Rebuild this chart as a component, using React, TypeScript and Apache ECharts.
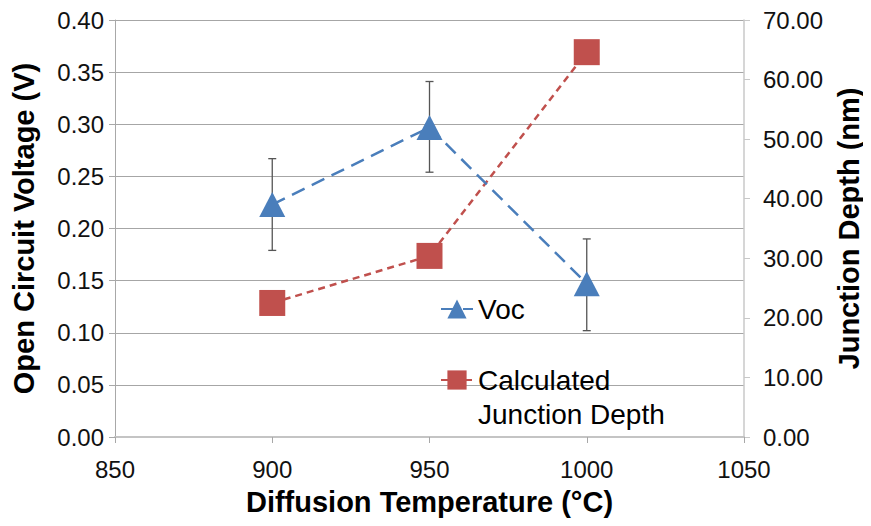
import React, { useEffect, useRef } from "react";
import * as echarts from "echarts";

const temperatures = [900, 950, 1000];
const vocValues = [0.223, 0.297, 0.147];
const vocErrLow = [0.179, 0.254, 0.102];
const vocErrHigh = [0.267, 0.341, 0.19];
const depthValues = [22.5, 30.4, 64.6];
const seriesNames = ["Voc", "Calculated Junction Depth"];
const legendLabels: Record<string, string> = {
  Voc: "Voc",
  "Calculated Junction Depth": "\nCalculated\nJunction Depth",
};

const FONT = "'Liberation Sans', Arial, sans-serif";

export default function App() {
  const ref = useRef<HTMLDivElement>(null);
  useEffect(() => {
    if (!ref.current) return;
    const chart = echarts.init(ref.current, undefined, { renderer: "svg" });
    const errData = temperatures.map((t, i) => [t, vocErrLow[i], vocErrHigh[i]]);
    chart.setOption({
      animation: false,
      textStyle: { fontFamily: FONT },
      grid: { left: 115, right: 124, top: 20, bottom: 89 },
      legend: {
        data: seriesNames,
        orient: "vertical",
        left: 440,
        top: 292,
        padding: 0,
        itemWidth: 32,
        itemHeight: 24,
        itemGap: 3,
        formatter: (n: string) => legendLabels[n] || n,
        textStyle: { fontSize: 28, color: "#000", fontFamily: FONT, lineHeight: 34 },
      },
      xAxis: {
        type: "value",
        min: 850,
        max: 1050,
        interval: 50,
        name: "Diffusion Temperature (°C)",
        nameLocation: "middle",
        nameGap: 50,
        nameTextStyle: { fontSize: 29, fontWeight: "bold", color: "#000", fontFamily: FONT },
        axisLine: { show: true, lineStyle: { color: "#c4c4c4", width: 2 } },
        axisTick: { show: true, length: 6, lineStyle: { color: "#a8a8a8" } },
        axisLabel: { fontSize: 24, color: "#111", margin: 20, fontFamily: FONT, formatter: (v: number) => String(v) },
        splitLine: { show: false },
      },
      yAxis: [
        {
          type: "value",
          min: 0,
          max: 0.4,
          interval: 0.05,
          position: "left",
          name: "Open Circuit Voltage (V)",
          nameLocation: "middle",
          nameRotate: 90,
          nameGap: 77,
          nameTextStyle: { fontSize: 29, fontWeight: "bold", color: "#000", fontFamily: FONT },
          axisLine: { show: true, lineStyle: { color: "#a8a8a8", width: 1 } },
          axisTick: { show: true, length: 6, lineStyle: { color: "#a8a8a8" } },
          axisLabel: { fontSize: 24, color: "#111", margin: 11, fontFamily: FONT, formatter: (v: number) => v.toFixed(2) },
          splitLine: { show: true, lineStyle: { color: "#a6a6a6", width: 1 } },
        },
        {
          type: "value",
          min: 0,
          max: 70,
          interval: 10,
          position: "right",
          name: "Junction Depth (nm)",
          nameLocation: "middle",
          nameRotate: 90,
          nameGap: 90,
          nameTextStyle: { fontSize: 29, fontWeight: "bold", color: "#000", fontFamily: FONT },
          axisLine: { show: true, lineStyle: { color: "#c8c8c8", width: 1.5 } },
          axisTick: { show: true, length: 6, lineStyle: { color: "#c8c8c8" } },
          axisLabel: { fontSize: 24, color: "#111", margin: 19, fontFamily: FONT, formatter: (v: number) => v.toFixed(2) },
          splitLine: { show: false },
        },
      ],
      series: [
        {
          type: "custom",
          name: "err",
          yAxisIndex: 0,
          z: 1,
          silent: true,
          data: errData,
          encode: { x: 0, y: [1, 2] },
          renderItem: (params: any, api: any) => {
            const x = api.value(0);
            const lo = api.coord([x, api.value(1)]);
            const hi = api.coord([x, api.value(2)]);
            const cap = 4;
            const style = { stroke: "#555", lineWidth: 1.3 };
            return {
              type: "group",
              children: [
                { type: "line", shape: { x1: lo[0], y1: lo[1], x2: hi[0], y2: hi[1] }, style },
                { type: "line", shape: { x1: hi[0] - cap, y1: hi[1], x2: hi[0] + cap, y2: hi[1] }, style },
                { type: "line", shape: { x1: lo[0] - cap, y1: lo[1], x2: lo[0] + cap, y2: lo[1] }, style },
              ],
            };
          },
        },
        {
          type: "line",
          name: seriesNames[0],
          yAxisIndex: 0,
          z: 3,
          data: temperatures.map((t, i) => [t, vocValues[i]]),
          symbol: "triangle",
          symbolSize: [26, 25],
          itemStyle: { color: "#4a7ebb" },
          lineStyle: { color: "#4a7ebb", width: 2.5, type: [14, 8] },
        },
        {
          type: "line",
          name: seriesNames[1],
          yAxisIndex: 1,
          z: 2,
          data: temperatures.map((t, i) => [t, depthValues[i]]),
          symbol: "rect",
          symbolSize: 26,
          itemStyle: { color: "#c0504d" },
          lineStyle: { color: "#c0504d", width: 2.5, type: [7, 5] },
        },
      ],
    });
    return () => chart.dispose();
  }, []);
  return <div ref={ref} style={{ width: 871, height: 526, margin: -8 }} />;
}
